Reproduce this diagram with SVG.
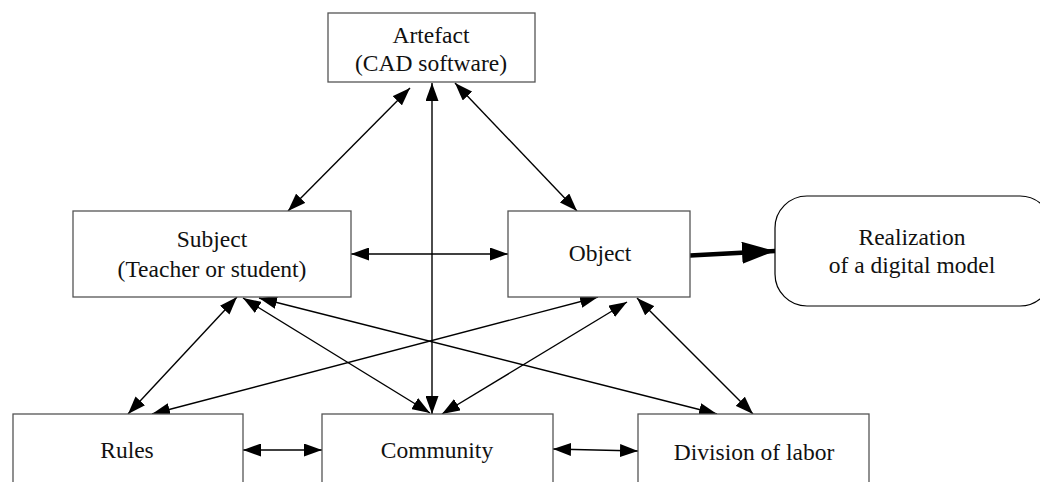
<svg xmlns="http://www.w3.org/2000/svg" width="1040" height="482" viewBox="0 0 1040 482">
<style>
.box{fill:#fff;stroke:#555;stroke-width:1.3}
.rbox{fill:#fff;stroke:#000;stroke-width:1.2}
text{font-size:23.5px;fill:#111;text-anchor:middle}
.c{stroke:#000;stroke-width:1.4;fill:none;marker-start:url(#ah);marker-end:url(#ah)}
</style>
<defs>
<marker id="ah" markerUnits="userSpaceOnUse" markerWidth="19" markerHeight="13" refX="18" refY="6.5" orient="auto-start-reverse" viewBox="0 0 19 13">
<path d="M0,0 L18,6.5 L0,13 z" fill="#000"/>
</marker>
<marker id="big" markerUnits="userSpaceOnUse" markerWidth="34" markerHeight="22" refX="33" refY="11" orient="auto" viewBox="0 0 34 22">
<path d="M0,0 L33,11 L0,22 z" fill="#000"/>
</marker>
</defs>
<g id="connectors">
<line class="c" x1="410" y1="88" x2="288" y2="211"/>
<line class="c" x1="432" y1="83" x2="432" y2="414"/>
<line class="c" x1="455" y1="83" x2="577" y2="211"/>
<line class="c" x1="351" y1="254" x2="508" y2="254"/>
<line class="c" x1="237" y1="297" x2="128" y2="414"/>
<line class="c" x1="243" y1="298" x2="430" y2="413"/>
<line class="c" x1="259" y1="298" x2="717" y2="414"/>
<line class="c" x1="598" y1="297" x2="152" y2="414"/>
<line class="c" x1="627" y1="302" x2="442" y2="414"/>
<line class="c" x1="637" y1="298" x2="753" y2="414"/>
<line class="c" x1="243" y1="450" x2="322" y2="450"/>
<line class="c" x1="553" y1="449" x2="638" y2="451"/>
<line x1="690" y1="255.5" x2="775" y2="251" stroke="#000" stroke-width="4.5" stroke-linecap="round" marker-end="url(#big)"/>
</g>
<g font-family="'Liberation Serif', 'Times New Roman', 'DejaVu Serif', serif">
<g id="artefact">
<rect class="box" x="328" y="13" width="207" height="69"/>
<text x="431" y="43">Artefact</text>
<text x="431" y="71">(CAD software)</text>
</g>
<g id="subject">
<rect class="box" x="73" y="211" width="278" height="86"/>
<text x="212" y="247">Subject</text>
<text x="212" y="277">(Teacher or student)</text>
</g>
<g id="object">
<rect class="box" x="508" y="211" width="182" height="86"/>
<text x="600" y="261">Object</text>
</g>
<g id="realization">
<rect class="rbox" x="775" y="196" width="277" height="110" rx="32" ry="32"/>
<text x="912" y="245">Realization</text>
<text x="912" y="273">of a digital model</text>
</g>
<g id="rules">
<rect class="box" x="13" y="414" width="230" height="80"/>
<text x="127" y="458">Rules</text>
</g>
<g id="community">
<rect class="box" x="322" y="414" width="231" height="80"/>
<text x="437" y="458">Community</text>
</g>
<g id="division">
<rect class="box" x="638" y="414" width="231" height="80"/>
<text x="754" y="460">Division of labor</text>
</g>
</g>
</svg>
